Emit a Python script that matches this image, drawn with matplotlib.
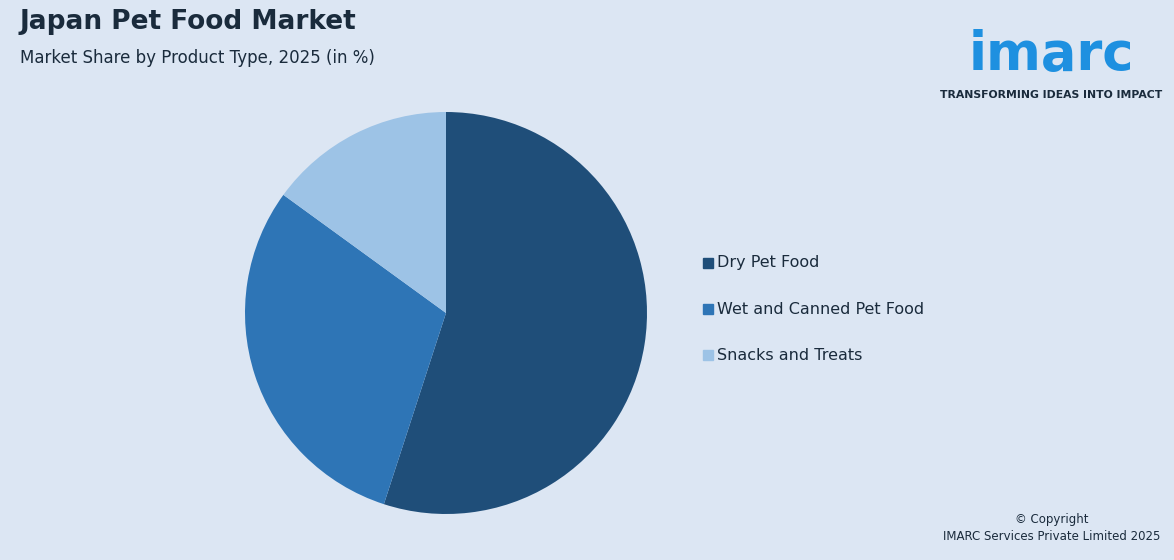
import matplotlib.pyplot as plt

categories = ["Dry Pet Food", "Wet and Canned Pet Food", "Snacks and Treats"]
shares = [55, 30, 15]
colors = ["#1f4e79", "#2e75b6", "#9dc3e6"]
bg = "#dce6f3"

fig = plt.figure(figsize=(11.74, 5.60), dpi=100, facecolor=bg)
ax = fig.add_axes([0.0, 0.0, 1.0, 1.0])
ax.set_facecolor(bg)
ax.axis("off")
pax = fig.add_axes([(446-201)/1174, 1-(313+201)/560, 402/1174, 402/560])
wedges, _ = pax.pie(shares, colors=colors, startangle=90, counterclock=False, radius=1.0)
pax.set_xlim(-1, 1); pax.set_ylim(-1, 1)
pax.set_aspect("equal")

fig.text(20/1174, 1-22/560, "Japan Pet Food Market", fontsize=19, fontweight="bold", color="#1a2b3c", va="center")
fig.text(20/1174, 1-58/560, "Market Share by Product Type, 2025 (in %)", fontsize=12, color="#1a2b3c", va="center")

for i, (c, col) in enumerate(zip(categories, colors)):
    y = 1 - (263 + 46*i)/560
    fig.patches.append(plt.Rectangle((703/1174, y-5/560), 10/1174, 10/560, transform=fig.transFigure, color=col))
    fig.text(717/1174, y, c, fontsize=11.5, color="#1a2b3c", va="center")

fig.text(1051/1174, 1-55/560, "imarc", fontsize=38, fontweight="bold", color="#1e90e0", ha="center", va="center")
fig.text(1051/1174, 1-95/560, "TRANSFORMING IDEAS INTO IMPACT", fontsize=7.8, fontweight="bold", color="#1a2b3c", ha="center", va="center")
fig.text(1052/1174, 1-519/560, "© Copyright", fontsize=8.5, color="#1a2b3c", ha="center", va="center")
fig.text(1052/1174, 1-536/560, "IMARC Services Private Limited 2025", fontsize=8.5, color="#1a2b3c", ha="center", va="center")

fig.savefig("out.png", facecolor=bg)
